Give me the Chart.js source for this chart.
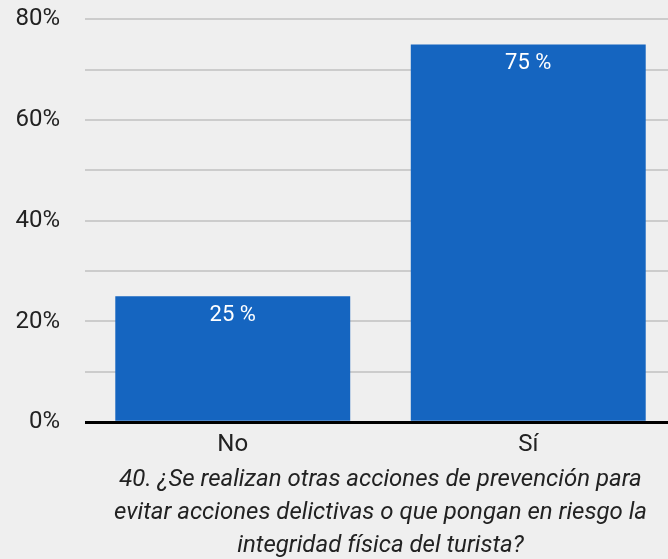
<!DOCTYPE html>
<html>
<head>
<meta charset="utf-8">
<script src="https://cdn.jsdelivr.net/npm/chart.js@4/dist/chart.umd.min.js"></script>
<style>
  html, body { margin: 0; padding: 0; background: #efefef; overflow: hidden; }
  #wrap { width: 676px; height: 579px; margin-top: -20px; }
</style>
</head>
<body>
<div id="wrap"><canvas id="chart"></canvas></div>
<script>
var categories = ['No', 'Sí'];
var percentValues = [25, 75];
var tickLabels = ['0%', '20%', '40%', '60%', '80%'];
var axisTitle = [
    '40. ¿Se realizan otras acciones de prevención para',
    'evitar acciones delictivas o que pongan en riesgo la',
    'integridad física del turista?'
];

// draws "25 %" labels inside the top of each bar
var barLabels = {
    id: 'barLabels',
    afterDatasetsDraw: function (chart) {
        var ctx = chart.ctx;
        var meta = chart.getDatasetMeta(0);
        ctx.save();
        ctx.fillStyle = '#ffffff';
        ctx.font = '22px Roboto';
        ctx.textAlign = 'center';
        ctx.textBaseline = 'middle';
        meta.data.forEach(function (bar, i) {
            ctx.fillText(percentValues[i] + ' %', bar.x, bar.y + 19);
        });
        ctx.restore();
    }
};

new Chart(document.getElementById('chart'), {
    type: 'bar',
    data: {
        labels: categories,
        datasets: [{
            data: percentValues,
            backgroundColor: '#1565c0',
            barPercentage: 0.795,
            categoryPercentage: 1
        }]
    },
    options: {
        responsive: true,
        maintainAspectRatio: false,
        animation: false,
        layout: { padding: { left: 0, top: 0, right: 0, bottom: -3 } },
        plugins: {
            legend: { display: false },
            tooltip: { enabled: false }
        },
        scales: {
            y: {
                min: 0,
                max: 80,
                afterFit: function (s) { s.width = 85; },
                border: { display: false },
                grid: {
                    drawTicks: false,
                    color: function (c) { return c.tick.value === 0 ? '#000000' : '#cccccc'; },
                    lineWidth: function (c) { return c.tick.value === 0 ? 3 : 2; }
                },
                ticks: {
                    stepSize: 10,
                    padding: 25,
                    color: '#222222',
                    font: { family: 'Roboto', size: 24 },
                    callback: function (v) {
                        return v % 20 === 0 ? tickLabels[v / 20] : '';
                    }
                }
            },
            x: {
                border: { display: false },
                grid: { display: false },
                ticks: {
                    padding: 0,
                    color: '#222222',
                    font: { family: 'Roboto', size: 24 }
                },
                title: {
                    display: true,
                    text: axisTitle,
                    color: '#222222',
                    font: { family: 'Roboto', size: 24, style: 'italic', lineHeight: 1.375 },
                    padding: { top: 4, bottom: 0 }
                }
            }
        }
    },
    plugins: [barLabels]
});
</script>
</body>
</html>
